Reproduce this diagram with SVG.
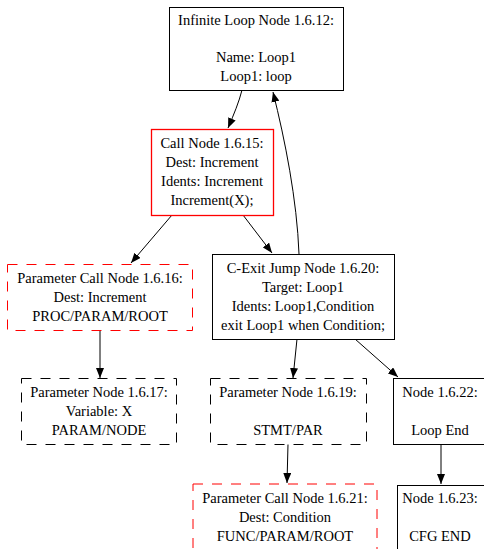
<svg xmlns="http://www.w3.org/2000/svg" width="484" height="549" viewBox="0 0 484 549">
  <defs>
    <marker id="arrow" viewBox="0 0 10 8" refX="10" refY="4" markerWidth="10" markerHeight="8" markerUnits="userSpaceOnUse" orient="auto">
      <path d="M0,0 L10,4 L0,8 z" fill="#000"/>
    </marker>
  </defs>
  <rect width="484" height="549" fill="#fff"/>

  <!-- edges between nodes -->
  <g id="connectors" fill="none" stroke="#000" stroke-width="1" marker-end="url(#arrow)">
    <path d="M242,90 C239,102 234,114 228,128"/>
    <path d="M299,254 C297,200 285,140 273,92"/>
    <path d="M172,215 L131,263"/>
    <path d="M243,215 L272,253"/>
    <path d="M100,330 L100,378"/>
    <path d="M297,339 L293,378"/>
    <path d="M355,339 L398,377"/>
    <path d="M288,444 L287,483"/>
    <path d="M441,444 L441,484"/>
  </g>

  <!-- nodes: shared label and box settings are inherited from this group -->
  <g id="nodes" font-family="Liberation Serif, Times New Roman, serif" font-size="14.5" text-anchor="middle" stroke-width="1">
    <g id="node-1-6-12">
      <rect x="169.5" y="7.5" width="174" height="83" fill="#fff" stroke="#000"/>
      <text x="256" y="25">Infinite Loop Node 1.6.12:</text>
      <text x="256" y="62">Name: Loop1</text>
      <text x="256" y="81">Loop1: loop</text>
    </g>

    <g id="node-1-6-15">
      <rect x="151.5" y="129.5" width="122" height="86" fill="#fff" stroke="#f00" stroke-width="1.3"/>
      <text x="212" y="148">Call Node 1.6.15:</text>
      <text x="212" y="167">Dest: Increment</text>
      <text x="212" y="186">Idents: Increment</text>
      <text x="212" y="205">Increment(X);</text>
    </g>

    <g id="node-1-6-16">
      <rect x="7.5" y="264.5" width="185" height="66" fill="#fff" stroke="#ff0000" stroke-dasharray="10,9"/>
      <text x="100" y="283">Parameter Call Node 1.6.16:</text>
      <text x="100" y="302">Dest: Increment</text>
      <text x="100" y="321">PROC/PARAM/ROOT</text>
    </g>

    <g id="node-1-6-20">
      <rect x="212.5" y="254.5" width="182" height="85" fill="#fff" stroke="#000"/>
      <text x="303" y="273">C-Exit Jump Node 1.6.20:</text>
      <text x="303" y="292">Target: Loop1</text>
      <text x="303" y="311">Idents: Loop1,Condition</text>
      <text x="303" y="330">exit Loop1 when Condition;</text>
    </g>

    <g id="node-1-6-17">
      <rect x="21.5" y="378.5" width="155" height="66" fill="#fff" stroke="#000" stroke-dasharray="10,9"/>
      <text x="99" y="397">Parameter Node 1.6.17:</text>
      <text x="99" y="416">Variable: X</text>
      <text x="99" y="435">PARAM/NODE</text>
    </g>

    <g id="node-1-6-19">
      <rect x="210.5" y="378.5" width="156" height="66" fill="#fff" stroke="#000" stroke-dasharray="10,9"/>
      <text x="288" y="397">Parameter Node 1.6.19:</text>
      <text x="288" y="435">STMT/PAR</text>
    </g>

    <g id="node-1-6-22">
      <rect x="393.5" y="378.5" width="100" height="66" fill="#fff" stroke="#000"/>
      <text x="440" y="397">Node 1.6.22:</text>
      <text x="440" y="435">Loop End</text>
    </g>

    <g id="node-1-6-21">
      <rect x="193" y="484" width="184" height="76" fill="#fff" stroke="#ff0000" stroke-dasharray="10,9"/>
      <text x="285" y="503">Parameter Call Node 1.6.21:</text>
      <text x="285" y="522">Dest: Condition</text>
      <text x="285" y="541">FUNC/PARAM/ROOT</text>
    </g>

    <g id="node-1-6-23">
      <rect x="397.5" y="485.5" width="100" height="76" fill="#fff" stroke="#000"/>
      <text x="440" y="503">Node 1.6.23:</text>
      <text x="440" y="541">CFG END</text>
    </g>
  </g>
</svg>
